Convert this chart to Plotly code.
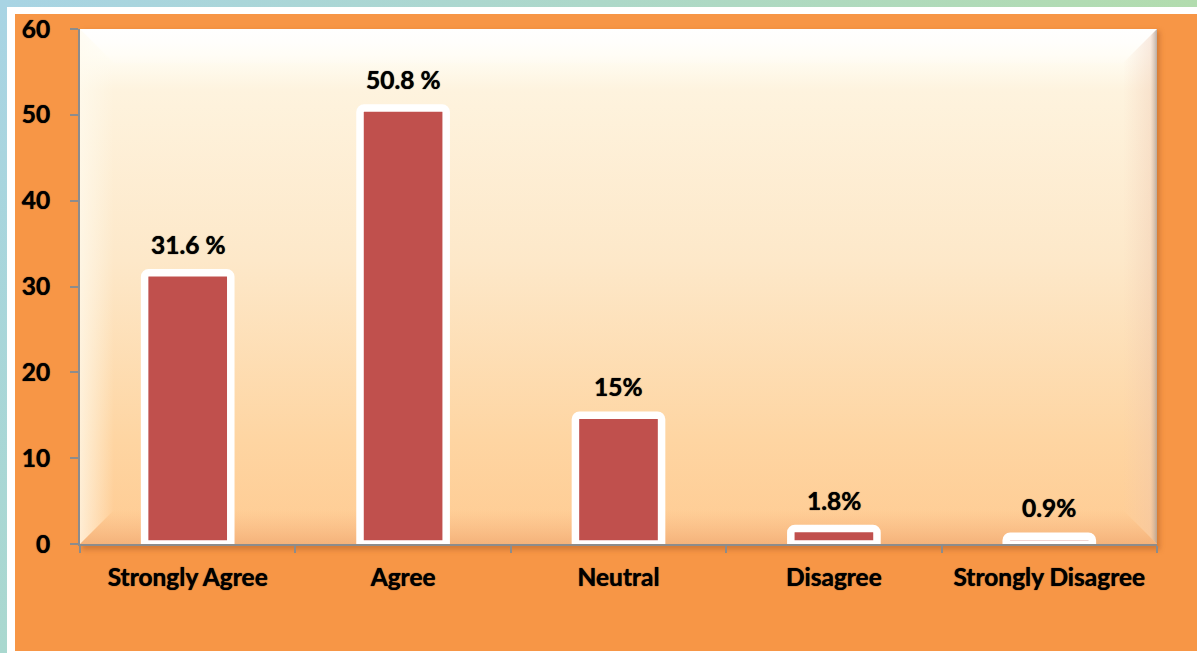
import base64
import plotly.graph_objects as go

# ---- data ----
categories = ["Strongly Agree", "Agree", "Neutral", "Disagree", "Strongly Disagree"]
values = [31.6, 50.8, 15.0, 1.8, 0.9]
value_labels = ["31.6 %", "50.8 %", "15%", "1.8%", "0.9%"]
y_ticks = [0, 10, 20, 30, 40, 50, 60]

# ---- geometry (pixels) ----
W, H = 1197, 653
L, R, T, B = 80, 1157, 29, 544
PW, PH = R - L, B - T
BV = 34  # bevel size

svg = f"""<svg xmlns='http://www.w3.org/2000/svg' width='{W}' height='{H}' viewBox='0 0 {W} {H}' preserveAspectRatio='none'>
<defs>
 <linearGradient id='fr' x1='0' y1='0' x2='1' y2='0'>
  <stop offset='0' stop-color='#A8D4E4'/><stop offset='1' stop-color='#B2DCAE'/>
 </linearGradient>
 <linearGradient id='frv' x1='0' y1='0' x2='0' y2='1'>
  <stop offset='0' stop-color='#A8D4E4'/><stop offset='1' stop-color='#A9D8CF'/>
 </linearGradient>
 <linearGradient id='pa' x1='0' y1='0' x2='0' y2='1'>
  <stop offset='0' stop-color='#FFFFFF'/>
  <stop offset='0.05' stop-color='#FFFDF4'/>
  <stop offset='0.12' stop-color='#FEF3DE'/>
  <stop offset='0.45' stop-color='#FDE8C9'/>
  <stop offset='0.8' stop-color='#FED5A2'/>
  <stop offset='1' stop-color='#FFCB92'/>
 </linearGradient>
 <linearGradient id='rb' x1='0' y1='0' x2='1' y2='0'>
  <stop offset='0' stop-color='#F2C8B0' stop-opacity='0'/>
  <stop offset='0.8' stop-color='#EDC4AC' stop-opacity='0.35'/>
  <stop offset='1' stop-color='#A89A90' stop-opacity='0.8'/>
 </linearGradient>
 <linearGradient id='bb' x1='0' y1='0' x2='0' y2='1'>
  <stop offset='0' stop-color='#F4A874' stop-opacity='0'/>
  <stop offset='1' stop-color='#E99A63' stop-opacity='0.5'/>
 </linearGradient>
 <linearGradient id='lb' x1='0' y1='0' x2='1' y2='0'>
  <stop offset='0' stop-color='#FFFBEF' stop-opacity='0.7'/>
  <stop offset='1' stop-color='#FFFBEF' stop-opacity='0'/>
 </linearGradient>
 <linearGradient id='tb' x1='0' y1='0' x2='0' y2='1'>
  <stop offset='0' stop-color='#FFFFFF' stop-opacity='1'/>
  <stop offset='1' stop-color='#FFFFFF' stop-opacity='0.2'/>
 </linearGradient>
 <filter id='bl' x='-5%' y='-5%' width='110%' height='110%'><feGaussianBlur stdDeviation='2.5'/></filter>
</defs>
<rect x='0' y='0' width='{W}' height='{H}' fill='#FFFFFF'/>
<rect x='0' y='0' width='{W}' height='7' fill='url(#fr)'/>
<rect x='0' y='0' width='7' height='{H}' fill='url(#frv)'/>
<rect x='15' y='14' width='{W-15}' height='{651-14}' fill='#F79646'/>
<rect x='{L+2}' y='{T+2}' width='{PW+1}' height='{PH+4}' fill='#B8652A' opacity='0.55' filter='url(#bl)'/>
<rect x='{L}' y='{T}' width='{PW}' height='{PH}' fill='url(#pa)'/>
<polygon points='{L},{T} {L+BV},{T+BV} {L+BV},{B-BV} {L},{B}' fill='url(#lb)'/>
<polygon points='{L},{T} {R},{T} {R-BV},{T+BV} {L+BV},{T+BV}' fill='url(#tb)' opacity='0.5'/>
<polygon points='{R},{T} {R},{B} {R-BV},{B-BV} {R-BV},{T+BV}' fill='url(#rb)'/>
<polygon points='{L},{B} {R},{B} {R-BV},{B-BV} {L+BV},{B-BV}' fill='url(#bb)'/>
</svg>"""

src = "data:image/svg+xml;base64," + base64.b64encode(svg.encode()).decode()

FONT = "Lato"
FS = 24.5
SHADOW = "0px 0px 1px #000000"

fig = go.Figure()
fig.add_trace(go.Bar(
    x=categories, y=values,
    marker=dict(color="#C0504D", line=dict(color="#FFFFFF", width=7.5), cornerradius=4),
    width=0.40,
    hoverinfo="skip",
))

for c, v, t in zip(categories, values, value_labels):
    fig.add_annotation(x=c, y=v, text=t, showarrow=False, yanchor="bottom",
                       yshift=12, font=dict(family=FONT, size=FS, color="#000000",
                                            weight="bold", shadow=SHADOW))

fig.add_layout_image(dict(
    source=src, xref="paper", yref="paper",
    x=-L / PW, y=1 + T / PH, sizex=W / PW, sizey=H / PH,
    xanchor="left", yanchor="top", sizing="stretch", layer="below",
))

fig.update_layout(
    width=W, height=H,
    margin=dict(l=L, r=W - R, t=T, b=H - B, pad=0),
    paper_bgcolor="#FFFFFF",
    plot_bgcolor="rgba(0,0,0,0)",
    showlegend=False,
    font=dict(family=FONT, size=FS, color="#000000", weight="bold"),
)
fig.update_xaxes(
    showline=True, linecolor="#8C8C8C", linewidth=2,
    ticks="outside", tickson="boundaries", ticklen=7, tickwidth=2, tickcolor="#8C8C8C",
    showgrid=False, zeroline=False, ticklabelstandoff=11,
    tickfont=dict(family=FONT, size=FS, color="#000000", weight="bold", shadow=SHADOW),
)
fig.update_yaxes(
    range=[0, 60], tickvals=y_ticks, ticktext=[str(v) for v in y_ticks],
    showline=True, linecolor="#8C8C8C", linewidth=2,
    ticks="outside", ticklen=8, tickwidth=2, tickcolor="#8C8C8C",
    showgrid=False, zeroline=False, ticklabelstandoff=15,
    tickfont=dict(family=FONT, size=FS, color="#000000", weight="bold", shadow=SHADOW),
)

fig.write_html(
    "out.html",
    config={"displayModeBar": False},
    post_script="document.body.style.margin='0px';document.body.style.overflow='hidden';",
)
